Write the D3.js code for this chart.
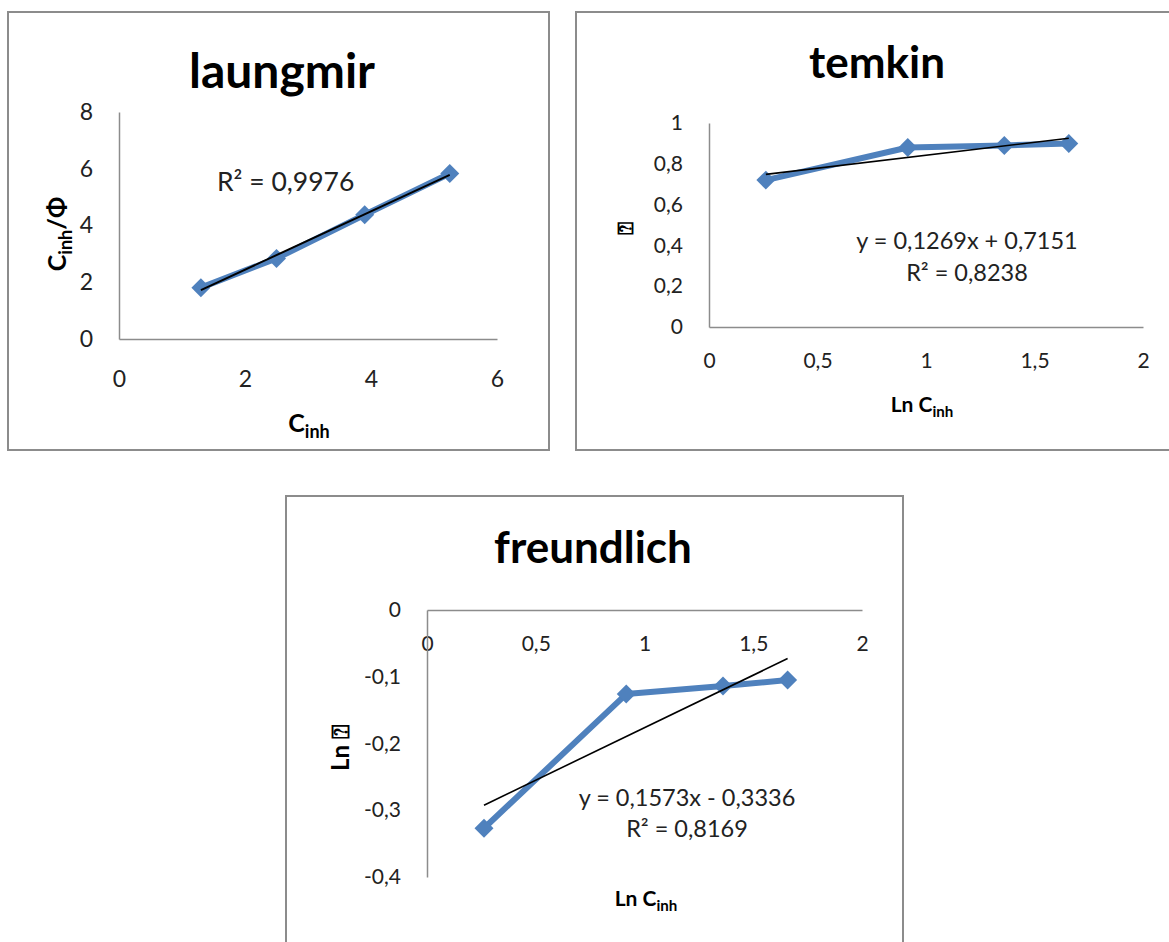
<!DOCTYPE html>
<html>
<head>
<meta charset="utf-8">
<script src="https://cdn.jsdelivr.net/npm/d3@7"></script>
<style>
  body { margin: 0; background: #fff; }
  svg { display: block; font-family: Lato, "Open Sans", sans-serif; }
  .domain { stroke: #8c8c8c; stroke-width: 1.5; }
</style>
</head>
<body>
<svg></svg>
<script>
// values
const cInh = [1.3, 2.5, 3.9, 5.25];           // laungmir x
const cOverTheta = [1.81, 2.84, 4.38, 5.83];  // laungmir y
const lnC = [0.262, 0.916, 1.361, 1.658];     // temkin / freundlich x
const theta = [0.72, 0.88, 0.89, 0.90];       // temkin y
const lnTheta = [-0.327, -0.126, -0.114, -0.105]; // freundlich y

const temkinFit = {a: 0.1269, b: 0.7151};
const freundFit = {a: 0.1573, b: -0.3336};

const size = {w: 1169, h: 942};
const svg = d3.select('svg').attr('width', size.w).attr('height', size.h);
const comma = d3.formatLocale({decimal: ',', thousands: ' ', grouping: [3], currency: ['', ''], minus: '-'});
const fmt = v => comma.format('~g')(+v.toFixed(2));
const blue = '#4f81bd';

// least squares line for laungmir
function fitLine(xs, ys) {
    const mx = d3.mean(xs), my = d3.mean(ys);
    const a = d3.sum(xs, (x, i) => (x - mx) * (ys[i] - my)) / d3.sum(xs, x => (x - mx) ** 2);
    return {a: a, b: my - a * mx};
}

function subText(g, x, y, parts, size, rotate) {
    let t = g.append('text')
        .attr('text-anchor', 'middle')
        .attr('font-weight', 'bold')
        .attr('font-size', size)
        .attr('transform', `translate(${x},${y})` + (rotate ? ' rotate(-90)' : ''));
    parts.forEach(p => {
        let s = t.append('tspan').text(p.t);
        if (p.sub) s.attr('font-size', size * 0.72).attr('dy', size * 0.25);
        if (p.up) s.attr('dy', -size * 0.25);
    });
    return t;
}

function panel(o) {
    const g = svg.append('g');
    g.append('rect').attr('x', o.box[0]).attr('y', o.box[1])
        .attr('width', o.box[2]).attr('height', o.box[3])
        .attr('fill', 'none').attr('stroke', '#8c8c8c').attr('stroke-width', 2);

    g.append('text').text(o.title)
        .attr('x', o.titlePos[0]).attr('y', o.titlePos[1])
        .attr('text-anchor', 'middle').attr('font-weight', 'bold')
        .attr('font-size', o.titleSize).attr('fill', '#000');

    const x = d3.scaleLinear().domain(o.xDom).range(o.xRange);
    const y = d3.scaleLinear().domain(o.yDom).range(o.yRange);

    const xAxis = d3.axisBottom(x).tickValues(o.xTicks).tickFormat(fmt)
        .tickSize(0).tickPadding(o.xPad);
    const yAxis = d3.axisLeft(y).tickValues(o.yTicks).tickFormat(fmt)
        .tickSize(0).tickPadding(26);

    g.append('g').attr('transform', `translate(0,${y(o.xAt)})`).call(xAxis)
        .call(a => a.selectAll('text').attr('font-size', o.tickSize).attr('fill', '#222')
            .attr('font-family', 'Lato, sans-serif'));
    g.append('g').attr('transform', `translate(${x(0)},0)`).call(yAxis)
        .call(a => a.selectAll('text').attr('font-size', o.tickSize).attr('fill', '#222')
            .attr('font-family', 'Lato, sans-serif'));

    const pts = o.xs.map((v, i) => [v, o.ys[i]]);
    g.append('path').datum(pts)
        .attr('d', d3.line().x(d => x(d[0])).y(d => y(d[1])))
        .attr('fill', 'none').attr('stroke', blue).attr('stroke-width', 6)
        .attr('stroke-linejoin', 'round');

    // diamonds: squares turned by 45 degrees
    g.selectAll('path.mark').data(pts).join('path').classed('mark', true)
        .attr('d', d3.symbol(d3.symbolSquare, 180))
        .attr('transform', d => `translate(${x(d[0])},${y(d[1])}) rotate(45)`)
        .attr('fill', blue);

    const x0 = d3.min(o.xs), x1 = d3.max(o.xs);
    g.append('line')
        .attr('x1', x(x0)).attr('y1', y(o.fit.a * x0 + o.fit.b))
        .attr('x2', x(x1)).attr('y2', y(o.fit.a * x1 + o.fit.b))
        .attr('stroke', '#000').attr('stroke-width', o.fitW);

    o.eq.forEach(e => {
        g.append('text').text(e.t).attr('x', e.x).attr('y', e.y)
            .attr('text-anchor', e.anchor || 'middle')
            .attr('font-size', o.eqSize).attr('fill', '#222');
    });
    return g;
}

// --------- LAUNGMIR ----------
const lg = panel({
    box: [8, 12, 541, 438], title: 'laungmir', titlePos: [282, 88], titleSize: 48,
    xDom: [0, 6], xRange: [119, 497], yDom: [0, 8], yRange: [339, 112],
    xTicks: [0, 2, 4, 6], yTicks: [0, 2, 4, 6, 8], xAt: 0, xPad: 32, tickSize: 23,
    xs: cInh, ys: cOverTheta, fit: fitLine(cInh, cOverTheta), fitW: 2,
    eqSize: 26.5, eq: [{t: 'R² = 0,9976', x: 217, y: 191, anchor: 'start'}]
});
subText(lg, 309, 432, [{t: 'C'}, {t: 'inh', sub: true}], 25);
subText(lg, 66, 234, [{t: 'C'}, {t: 'inh', sub: true}, {t: '/Φ', up: true}], 25, true);

// --------- TEMKIN ----------
const tg = panel({
    box: [576, 12, 620, 438], title: 'temkin', titlePos: [877, 78], titleSize: 44,
    xDom: [0, 2], xRange: [709, 1143], yDom: [0, 1], yRange: [327, 123],
    xTicks: [0, 0.5, 1, 1.5, 2], yTicks: [0, 0.2, 0.4, 0.6, 0.8, 1], xAt: 0, xPad: 26, tickSize: 21,
    xs: lnC, ys: theta, fit: temkinFit, fitW: 1.6,
    eqSize: 23.5, eq: [{t: 'y = 0,1269x + 0,7151', x: 967, y: 249}, {t: 'R² = 0,8238', x: 967, y: 281}]
});
subText(tg, 922, 412, [{t: 'Ln C'}, {t: 'inh', sub: true}], 21);
tg.append('text').text('⍰').attr('transform', 'translate(633,228) rotate(-90)')
    .attr('text-anchor', 'middle').attr('font-size', 22).attr('font-weight', 'bold')
    .attr('font-family', 'Lato, sans-serif');

// --------- FREUNDLICH ----------
const fg = panel({
    box: [286, 496, 617, 470], title: 'freundlich', titlePos: [593, 563], titleSize: 44,
    xDom: [0, 2], xRange: [427, 862], yDom: [-0.4, 0], yRange: [877, 610],
    xTicks: [0, 0.5, 1, 1.5, 2], yTicks: [0, -0.1, -0.2, -0.3, -0.4], xAt: 0, xPad: 26, tickSize: 21,
    xs: lnC, ys: lnTheta, fit: freundFit, fitW: 1.6,
    eqSize: 23.5, eq: [{t: 'y = 0,1573x - 0,3336', x: 687, y: 806}, {t: 'R² = 0,8169', x: 687, y: 837}]
});
subText(fg, 646, 906, [{t: 'Ln C'}, {t: 'inh', sub: true}], 21);
fg.append('text').text('Ln ⍰').attr('transform', 'translate(349,748) rotate(-90)')
    .attr('text-anchor', 'middle').attr('font-size', 24).attr('font-weight', 'bold')
    .attr('font-family', 'Lato, sans-serif');
</script>
</body>
</html>
